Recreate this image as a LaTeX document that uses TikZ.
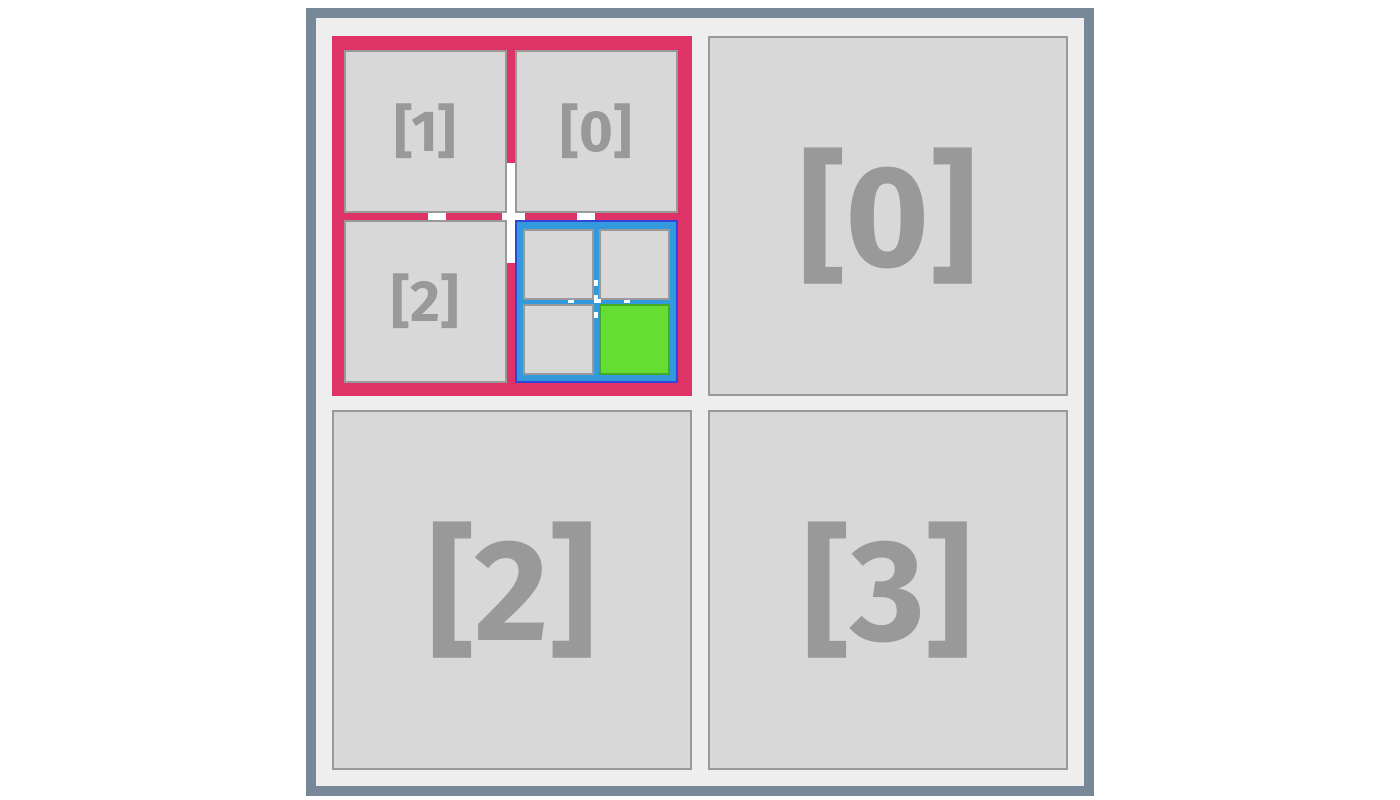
\documentclass[tikz,border=0pt]{standalone}
\usepackage{fontspec}
\setmainfont{Fira Sans}
\usepackage{tikz}
\usetikzlibrary{positioning}

\definecolor{frame}{HTML}{778899}
\definecolor{backdrop}{HTML}{EEEEEE}
\definecolor{cellfill}{HTML}{D8D8D8}
\definecolor{cellline}{HTML}{999999}
\definecolor{quadred}{HTML}{DD3366}
\definecolor{blueface}{HTML}{3399DD}
\definecolor{blueedge}{HTML}{3344DD}
\definecolor{greenface}{HTML}{66DD33}
\definecolor{greenedge}{HTML}{44AA22}

\begin{document}
\begin{tikzpicture}[
  x=0.02cm, y=-0.02cm,
  cell/.style   = {draw=cellline, fill=cellfill, line width=0.04cm, inner sep=0pt,
                   anchor=north west, text=cellline, font=\bfseries},
  bigcell/.style   = {cell, minimum size=7.16cm, font=\bfseries\fontsize{82}{82}\selectfont},
  midcell/.style   = {cell, minimum size=3.22cm, font=\bfseries\fontsize{33}{33}\selectfont},
  smallcell/.style = {cell, minimum size=1.38cm},
  gutter/.style = {fill=white},
]
  \useasboundingbox (0,0) rectangle (1400,800);

  \node[draw=frame, fill=backdrop, line width=0.2cm, minimum size=15.56cm,
        inner sep=0pt, anchor=north west] (board) at (306,8) {};

  % quadrants
  \node[fill=quadred, minimum size=7.2cm, inner sep=0pt, anchor=north west] (q0) at (332,36) {};
  \node[bigcell] (q1) at (708,36)  {[0]};
  \node[bigcell] (q2) at (332,410) {[2]};
  \node[bigcell] (q3) at (708,410) {[3]};

  % nested level inside q0
  \node[midcell] (q0a) at (344,50)  {[1]};
  \node[midcell] (q0b) at (515,50)  {[0]};
  \node[midcell] (q0c) at (344,220) {[2]};
  \node[midcell, draw=blueedge, fill=blueface] (q0d) at (515,220) {};

  % nested level inside q0d
  \node[smallcell] (q0da) at (523,229) {};
  \node[smallcell] (q0db) at (599,229) {};
  \node[smallcell] (q0dc) at (523,304) {};
  \node[smallcell, draw=greenedge, fill=greenface] (q0dd) at (599,304) {};

  % gutter marks
  \fill[gutter] (507,163) rectangle (515,263);
  \fill[gutter] (502,213) rectangle (525,220);
  \fill[gutter] (428,213) rectangle (446,220);
  \fill[gutter] (577,213) rectangle (595,220);

  \fill[gutter] (594,280) rectangle (598,286);
  \fill[gutter] (594,295) rectangle (598,303);
  \fill[gutter] (594,299) rectangle (601,303);
  \fill[gutter] (594,312) rectangle (598,318);
  \fill[gutter] (568,300) rectangle (574,303);
  \fill[gutter] (624,300) rectangle (630,303);
\end{tikzpicture}
\end{document}
